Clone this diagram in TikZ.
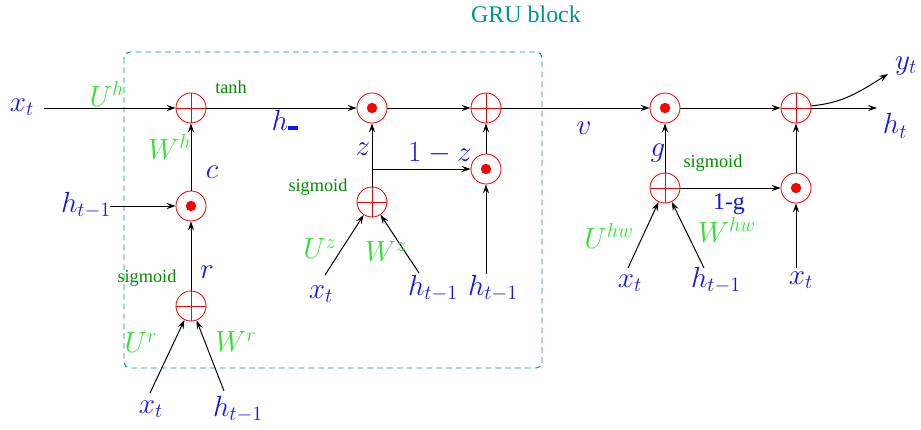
\documentclass[tikz,border=0pt]{standalone}
\usepackage{fontspec}
\newfontfamily\timesf{Liberation Serif}
\usetikzlibrary{arrows.meta}
\definecolor{labblue}{RGB}{20,20,245}
\definecolor{wgreen}{RGB}{50,225,50}
\definecolor{dgreen}{RGB}{0,140,0}
\definecolor{boxteal}{RGB}{0,145,145}
\begin{document}
\begin{tikzpicture}[x=0.025cm,y=-0.025cm,
  op/.style={circle,draw=red,line width=0.6pt,minimum size=0.75cm,inner sep=0pt},
  plusop/.style={op,path picture={\draw[red,line width=0.6pt]
     (path picture bounding box.north)--(path picture bounding box.south)
     (path picture bounding box.west)--(path picture bounding box.east);}},
  dotop/.style={op,path picture={\fill[red] (path picture bounding box.center) circle[radius=0.13cm];}},
  lab/.style={text=labblue,font=\fontsize{22}{26}\selectfont,inner sep=0pt},
  wlab/.style={text=wgreen,font=\fontsize{19.5}{23}\selectfont,inner sep=0pt},
  act/.style={text=dgreen,font=\timesf\fontsize{13}{15}\selectfont,inner sep=0pt},
  conn/.style={line width=0.7pt,-{Stealth[length=6.5pt,width=4.5pt,inset=2.5pt]}}]
\useasboundingbox (0,0) rectangle (921,429);

% GRU block frame
\draw[boxteal,line width=0.7pt,dash pattern=on 4pt off 3pt,rounded corners=4pt] (124,52) rectangle (542,368);
\node[text=boxteal,font=\timesf\fontsize{17}{20}\selectfont,inner sep=0pt] (gru) at (526,14) {GRU block};

% operators
\node[plusop] (p1) at (191,108) {};
\node[dotop]  (o1) at (191,206) {};
\node[plusop] (pr) at (191,306) {};
\node[dotop]  (o2) at (372,108) {};
\node[plusop] (pz) at (372,202) {};
\node[plusop] (p2) at (486,108) {};
\node[dotop]  (oz) at (486,169) {};
\node[dotop]  (og) at (665,108) {};
\node[plusop] (pg) at (665,188) {};
\node[plusop] (p3) at (796,108) {};
\node[dotop]  (o3) at (796,188) {};

% free ends
\coordinate (xs) at (44,108);
\coordinate (hs1) at (110,206);
\coordinate (xr) at (150,393);
\coordinate (hr) at (224,391);
\coordinate (xz) at (325,275);
\coordinate (hz) at (419,273);
\coordinate (hz2) at (486,274);
\coordinate (zb) at (372,169);
\coordinate (xg) at (628,268);
\coordinate (hg) at (704,268);
\coordinate (xo) at (796,268);
\coordinate (htend) at (877,108);
\coordinate (ytend) at (888,74);

% connectors
\draw[conn] (xs) -- (p1);
\draw[conn] (p1) -- (o2);
\draw[conn] (o2) -- (p2);
\draw[conn] (p2) -- (og);
\draw[conn] (og) -- (p3);
\draw[conn] (p3) -- (htend);
\draw[conn] (p3.8) to[out=5,in=212] (ytend);
\draw[conn] (hs1) -- (o1);
\draw[conn] (o1) -- (p1);
\draw[conn] (pr) -- (o1);
\draw[conn] (xr) -- (pr);
\draw[conn] (hr) -- (pr);
\draw[conn] (pz) -- (o2);
\draw[conn] (zb) -- (oz);
\draw[conn] (oz) -- (p2);
\draw[conn] (xz) -- (pz);
\draw[conn] (hz) -- (pz);
\draw[conn] (hz2) -- (oz);
\draw[conn] (pg) -- (og);
\draw[conn] (pg) -- (o3);
\draw[conn] (o3) -- (p3);
\draw[conn] (xg) -- (pg);
\draw[conn] (hg) -- (pg);
\draw[conn] (xo) -- (o3);

% blue labels
\node[lab] (lxt1) at (22,107) {$x_t$};
\node[lab] (lh1) at (86,205) {$h_{t-1}$};
\node[lab] (lc) at (212,172) {$c$};
\node[lab] (lr) at (207,272) {$r$};
\node[lab] (lxt2) at (151,409) {$x_t$};
\node[lab] (lh2) at (238,409) {$h_{t-1}$};
\node[lab,anchor=base] (lhm) at (285,130) {$h$\rule{7.5pt}{3.2pt}};
\node[lab] (lz) at (363,149) {$z$};
\node[lab] (l1z) at (440,153) {$1-z$};
\node[lab] (lxt3) at (321,294) {$x_t$};
\node[lab] (lh3) at (433,288) {$h_{t-1}$};
\node[lab] (lh4) at (493,288) {$h_{t-1}$};
\node[lab] (lv) at (584,128) {$v$};
\node[lab] (lg) at (658,153) {$g$};
\node[text=labblue,font=\timesf\fontsize{17}{20}\selectfont,inner sep=0pt] (l1g) at (729,204) {1-g};
\node[lab] (lxt4) at (630,283) {$x_t$};
\node[lab] (lh5) at (716,280) {$h_{t-1}$};
\node[lab] (lxt5) at (801,280) {$x_t$};
\node[lab] (lht) at (895,126) {$h_t$};
\node[lab] (lyt) at (906,66) {$y_t$};

% green weight labels
\node[wlab] (uh) at (107,94) {$U^h$};
\node[wlab] (wh) at (170,147) {$W^h$};
\node[wlab] (ur) at (141,343) {$U^r$};
\node[wlab] (wr) at (236,342) {$W^r$};
\node[wlab] (uz) at (320,249) {$U^z$};
\node[wlab] (wz) at (386,252) {$W^z$};
\node[wlab] (uhw) at (609,236) {$U^{hw}$};
\node[wlab] (whw) at (727,230) {$W^{hw}$};

% activations
\node[act] (atanh) at (231,87) {tanh};
\node[act] (asig1) at (147,278) {sigmoid};
\node[act] (asig2) at (318,187) {sigmoid};
\node[act] (asig3) at (713,163) {sigmoid};
\end{tikzpicture}
\end{document}
